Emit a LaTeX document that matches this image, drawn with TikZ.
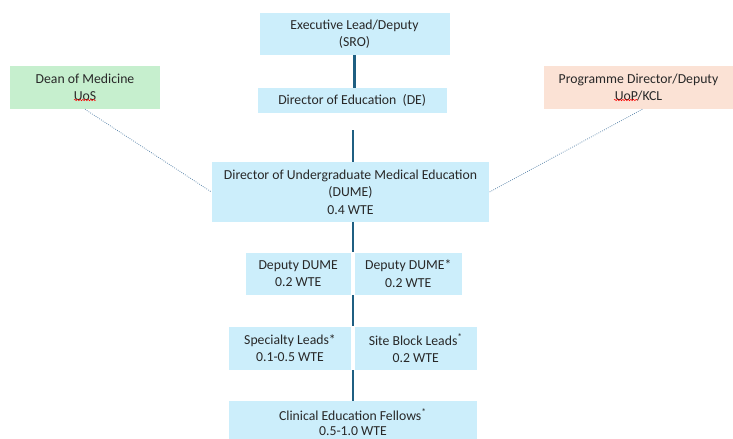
\documentclass[tikz,border=0pt]{standalone}
\usepackage{fontspec}
\setmainfont{Carlito}
\usetikzlibrary{calc,decorations.pathmorphing}
\definecolor{boxblue}{RGB}{204,238,251}
\definecolor{boxgreen}{RGB}{198,239,206}
\definecolor{boxpeach}{RGB}{251,226,213}
\definecolor{linkblue}{RGB}{31,95,130}
\definecolor{dotblue}{RGB}{100,140,175}
\definecolor{txt}{RGB}{40,40,40}
\begin{document}
\begin{tikzpicture}[x=0.75pt,y=-0.75pt,
  orgbox/.style={rectangle, fill=boxblue, inner sep=0pt, align=center, text=txt,
    font=\fontsize{10.3}{13}\selectfont},
  orgline/.style={draw=linkblue, line width=1.6pt},
  dotline/.style={draw=dotblue, line width=0.6pt, densely dotted},
  squig/.style={draw=red, line width=0.35pt, decorate,
    decoration={snake, segment length=2pt, amplitude=0.55pt}}]
\useasboundingbox (0,0) rectangle (733,439);
\clip (0,0) rectangle (733,439);
% boxes
\node[orgbox, minimum width=142.5pt, minimum height=31.7pt] (exec) at (354.5,34) {Executive Lead/Deputy\\(SRO)};
\node[orgbox, minimum width=141.75pt, minimum height=18.75pt] (de) at (352.2,100.5) {Director of Education\ \ (DE)};
\node[orgbox, fill=boxgreen, minimum width=112.5pt, minimum height=32.25pt] (dean) at (85,87.5) {Dean of Medicine\\UoS};
\node[orgbox, fill=boxpeach, minimum width=141.75pt, minimum height=32.25pt] (prog) at (638.5,87.5) {Programme Director/Deputy\\UoP/KCL};
\node[orgbox, minimum width=208.2pt, minimum height=44.55pt] (dume) at (350.5,192) {Director of Undergraduate Medical Education\\(DUME)\\0.4 WTE};
\node[orgbox, minimum width=78.75pt, minimum height=31.7pt] (dep1) at (298.2,273.8) {Deputy DUME\\0.2 WTE};
\node[orgbox, minimum width=80pt, minimum height=31.7pt] (dep2) at (408.3,273.8) {Deputy DUME*\\0.2 WTE};
\node[orgbox, minimum width=91pt, minimum height=32.5pt] (spec) at (290,348.3) {Specialty Leads*\\0.1-0.5 WTE};
\node[orgbox, minimum width=91.3pt, minimum height=32.5pt] (site) at (415.8,348.3) {Site Block Leads\textsuperscript{*}\\0.2 WTE};
\node[orgbox, minimum width=185.5pt, minimum height=32.2pt, font=\fontsize{10.3}{11.5}\selectfont] (clin) at (353,422.5) {Clinical Education Fellows\textsuperscript{*}\\0.5-1.0 WTE};
% connectors
\draw[orgline] (exec.south) -- (exec.south |- de.north);
\coordinate (c1) at ($(de.south)+(0.5,17)$);
\draw[orgline] (c1) -- (c1 |- dume.north);
\coordinate (g1) at ($(dep1.north east)!0.5!(dep2.north west)$);
\draw[orgline] (g1 |- dume.south) -- (g1);
\coordinate (g2) at ($(spec.north east)!0.5!(site.north west)$);
\draw[orgline] (g2 |- dep1.south) -- (g2);
\coordinate (g3) at ($(spec.south east)!0.5!(site.south west)$);
\draw[orgline] (g3) -- (g3 |- clin.north);
\draw[dotline] (dean.south) -- (dume.west);
\draw[dotline] ([xshift=2.85pt]prog.south) -- (dume.east);
% spell-check marks
\draw[squig] ($(dean.center)+(-11,12.5)$) -- ++(22,0);
\draw[squig] ($(prog.center)+(-24.5,12.5)$) -- ++(24,0);
\end{tikzpicture}
\end{document}
